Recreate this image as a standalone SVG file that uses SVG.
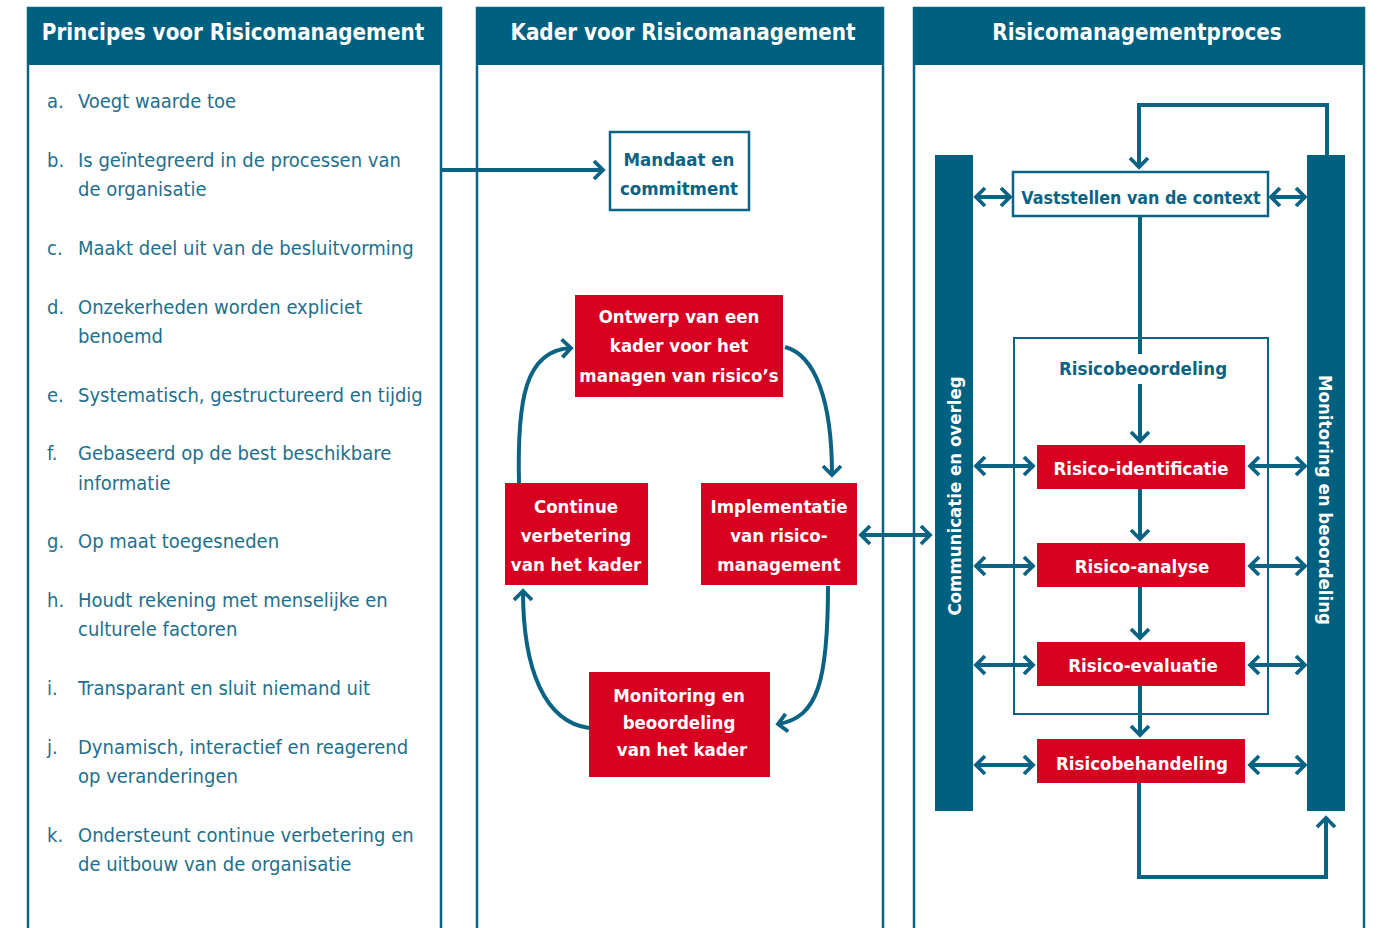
<svg xmlns="http://www.w3.org/2000/svg" width="1379" height="928" viewBox="0 0 1379 928">
<defs>
<style>
.panel{fill:#fff;stroke:#0a6383;stroke-width:2.5}
.hdr{fill:#00607f}
.htxt{font-family:"DejaVu Sans Condensed","DejaVu Sans",sans-serif;font-weight:bold;font-size:22.2px;fill:#fff;text-anchor:middle}
.item{font-family:"DejaVu Sans Condensed","DejaVu Sans",sans-serif;font-size:20px;fill:#1f6f8c}
.red{fill:#d70021}
.rtxt{font-family:"DejaVu Sans Condensed","DejaVu Sans",sans-serif;font-weight:bold;font-size:18.5px;fill:#fff;text-anchor:middle}
.ttxt{font-family:"DejaVu Sans Condensed","DejaVu Sans",sans-serif;font-weight:bold;font-size:18.5px;fill:#0a6383;text-anchor:middle}
.wbox{fill:#fff;stroke:#0a6383;stroke-width:2.5}
.bar{fill:#00607f}
.con{fill:none;stroke:#0a6383;stroke-width:4}
</style>
<marker id="ah" viewBox="0 0 16 22" refX="12" refY="11" markerWidth="16" markerHeight="22" markerUnits="userSpaceOnUse" orient="auto-start-reverse">
<path d="M3,2 L12,11 L3,20" fill="none" stroke="#0a6383" stroke-width="3.8"/>
</marker>
</defs>
<rect width="1379" height="928" fill="#fff"/>

<g id="panel-principes">
<rect class="panel" x="28" y="8" width="413" height="940"/>
<rect class="hdr" x="28" y="8" width="413" height="57"/>
<text class="htxt" x="233" y="40">Principes voor Risicomanagement</text>
<g class="item">
<text x="47" y="108">a.</text><text x="78" y="108">Voegt waarde toe</text>
<text x="47" y="167">b.</text><text x="78" y="167">Is geïntegreerd in de processen van</text><text x="78" y="196">de organisatie</text>
<text x="47" y="255">c.</text><text x="78" y="255">Maakt deel uit van de besluitvorming</text>
<text x="47" y="314">d.</text><text x="78" y="314">Onzekerheden worden expliciet</text><text x="78" y="343">benoemd</text>
<text x="47" y="402">e.</text><text x="78" y="402">Systematisch, gestructureerd en tijdig</text>
<text x="47" y="460">f.</text><text x="78" y="460">Gebaseerd op de best beschikbare</text><text x="78" y="490">informatie</text>
<text x="47" y="548">g.</text><text x="78" y="548">Op maat toegesneden</text>
<text x="47" y="607">h.</text><text x="78" y="607">Houdt rekening met menselijke en</text><text x="78" y="636">culturele factoren</text>
<text x="47" y="695">i.</text><text x="78" y="695">Transparant en sluit niemand uit</text>
<text x="47" y="754">j.</text><text x="78" y="754">Dynamisch, interactief en reagerend</text><text x="78" y="783">op veranderingen</text>
<text x="47" y="842">k.</text><text x="78" y="842">Ondersteunt continue verbetering en</text><text x="78" y="871">de uitbouw van de organisatie</text>
</g>
</g>

<g id="panel-kader">
<rect class="panel" x="477" y="8" width="406" height="940"/>
<rect class="hdr" x="477" y="8" width="406" height="57"/>
<text class="htxt" x="683" y="40">Kader voor Risicomanagement</text>
</g>

<g id="panel-proces">
<rect class="panel" x="914" y="8" width="450" height="940"/>
<rect class="hdr" x="914" y="8" width="450" height="57"/>
<text class="htxt" x="1137" y="40">Risicomanagementproces</text>
</g>

<g id="connectors">
<line class="con" x1="441" y1="170" x2="603" y2="170" marker-end="url(#ah)"/>
<path class="con" d="M519,483 C517,400 525,350 571,348" marker-end="url(#ah)"/>
<path class="con" d="M785,347 C815,355 832,400 832,475" marker-end="url(#ah)"/>
<path class="con" d="M828,586 C828,680 818,718 778,724" marker-end="url(#ah)"/>
<path class="con" d="M589,728 C545,722 523,670 523,591" marker-end="url(#ah)"/>
<line class="con" x1="861" y1="535" x2="930" y2="535" marker-start="url(#ah)" marker-end="url(#ah)"/>
<polyline class="con" points="1327,155 1327,105 1139,105 1139,167" marker-end="url(#ah)"/>
<line class="con" x1="1140" y1="216" x2="1140" y2="354"/>
<line class="con" x1="1140" y1="384" x2="1140" y2="441" marker-end="url(#ah)"/>
<line class="con" x1="1140" y1="489" x2="1140" y2="539" marker-end="url(#ah)"/>
<line class="con" x1="1140" y1="587" x2="1140" y2="638" marker-end="url(#ah)"/>
<line class="con" x1="1140" y1="686" x2="1140" y2="735" marker-end="url(#ah)"/>
<polyline class="con" points="1139,783 1139,877 1326,877 1326,818" marker-end="url(#ah)"/>
<line class="con" x1="976" y1="197" x2="1010" y2="197" marker-start="url(#ah)" marker-end="url(#ah)"/>
<line class="con" x1="1271" y1="197" x2="1305" y2="197" marker-start="url(#ah)" marker-end="url(#ah)"/>
<line class="con" x1="976" y1="466" x2="1033" y2="466" marker-start="url(#ah)" marker-end="url(#ah)"/>
<line class="con" x1="1250" y1="466" x2="1305" y2="466" marker-start="url(#ah)" marker-end="url(#ah)"/>
<line class="con" x1="976" y1="566" x2="1033" y2="566" marker-start="url(#ah)" marker-end="url(#ah)"/>
<line class="con" x1="1250" y1="566" x2="1305" y2="566" marker-start="url(#ah)" marker-end="url(#ah)"/>
<line class="con" x1="976" y1="665" x2="1033" y2="665" marker-start="url(#ah)" marker-end="url(#ah)"/>
<line class="con" x1="1250" y1="665" x2="1305" y2="665" marker-start="url(#ah)" marker-end="url(#ah)"/>
<line class="con" x1="976" y1="765" x2="1033" y2="765" marker-start="url(#ah)" marker-end="url(#ah)"/>
<line class="con" x1="1250" y1="765" x2="1305" y2="765" marker-start="url(#ah)" marker-end="url(#ah)"/>
</g>

<g id="mandaat">
<rect class="wbox" x="610" y="132" width="139" height="78"/>
<text class="ttxt" x="679" y="166">Mandaat en</text>
<text class="ttxt" x="679" y="195">commitment</text>
</g>
<g id="ontwerp">
<rect class="red" x="575" y="295" width="208" height="102"/>
<text class="rtxt" x="679" y="323">Ontwerp van een</text>
<text class="rtxt" x="679" y="352">kader voor het</text>
<text class="rtxt" x="679" y="382">managen van risico’s</text>
</g>
<g id="continue">
<rect class="red" x="505" y="483" width="143" height="102"/>
<text class="rtxt" x="576" y="513">Continue</text>
<text class="rtxt" x="576" y="542">verbetering</text>
<text class="rtxt" x="576" y="571">van het kader</text>
</g>
<g id="implementatie">
<rect class="red" x="701" y="483" width="156" height="102"/>
<text class="rtxt" x="779" y="513">Implementatie</text>
<text class="rtxt" x="779" y="542">van risico-</text>
<text class="rtxt" x="779" y="571">management</text>
</g>
<g id="monitoring-kader">
<rect class="red" x="589" y="672" width="181" height="105"/>
<text class="rtxt" x="679" y="702">Monitoring en</text>
<text class="rtxt" x="679" y="729">beoordeling</text>
<text class="rtxt" x="682" y="756">van het kader</text>
</g>

<g id="communicatie">
<rect class="bar" x="935" y="155" width="38" height="656"/>
<text class="rtxt" transform="translate(961,496) rotate(-90)">Communicatie en overleg</text>
</g>
<g id="monitoring-beoordeling">
<rect class="bar" x="1307" y="155" width="38" height="656"/>
<text class="rtxt" transform="translate(1319,500) rotate(90)">Monitoring en beoordeling</text>
</g>
<g id="context">
<rect class="wbox" x="1013" y="172" width="255" height="44"/>
<text class="ttxt" x="1141" y="204" style="font-size:17.7px">Vaststellen van de context</text>
</g>
<g id="risicobeoordeling">
<rect x="1014" y="338" width="254" height="376" fill="none" stroke="#0a6383" stroke-width="2"/>
<text class="ttxt" x="1143" y="375">Risicobeoordeling</text>
</g>
<g id="identificatie">
<rect class="red" x="1037" y="445" width="208" height="44"/>
<text class="rtxt" x="1141" y="475">Risico-identificatie</text>
</g>
<g id="analyse">
<rect class="red" x="1037" y="543" width="208" height="44"/>
<text class="rtxt" x="1142" y="573">Risico-analyse</text>
</g>
<g id="evaluatie">
<rect class="red" x="1037" y="642" width="208" height="44"/>
<text class="rtxt" x="1143" y="672">Risico-evaluatie</text>
</g>
<g id="behandeling">
<rect class="red" x="1037" y="739" width="208" height="44"/>
<text class="rtxt" x="1142" y="770">Risicobehandeling</text>
</g>
</svg>
